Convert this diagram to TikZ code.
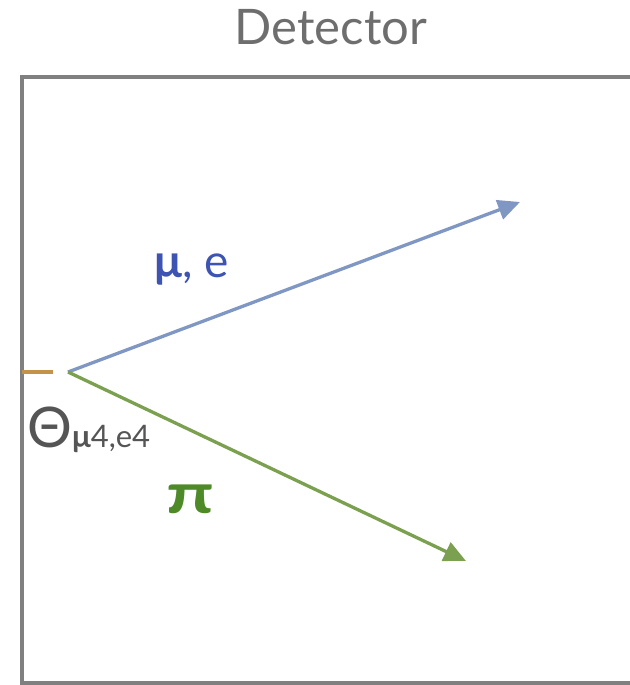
\documentclass[tikz,border=0pt]{standalone}
\usepackage{fontspec}
\setmainfont{Lato}
\usepackage{xcolor}
\usetikzlibrary{arrows.meta,positioning,calc}

\definecolor{framegray}{RGB}{128,128,128}
\definecolor{titlegray}{RGB}{110,110,110}
\definecolor{mutrack}{RGB}{127,151,194}
\definecolor{pitrack}{RGB}{122,160,80}
\definecolor{mulabel}{RGB}{62,84,178}
\definecolor{pilabel}{RGB}{78,138,40}
\definecolor{ticktan}{RGB}{196,146,72}
\definecolor{anglegray}{RGB}{85,85,85}

\begin{document}
\begin{tikzpicture}[
  x=1pt, y=-1pt,
  frame/.style={draw=framegray, line width=4pt},
  track/.style={line width=3.3pt, -{Triangle[length=22pt,width=20pt]}},
  lbl/.style={inner sep=0pt}
]
  \useasboundingbox (0,0) rectangle (629,685);

  \node[lbl, text=titlegray, font=\fontsize{49}{49}\selectfont] (title) at (331,27) {Detector};
  \draw[frame] (640,77) -- (22,77) -- (22,683) -- (640,683);

  \coordinate (vtx) at (68,372);
  \coordinate (mutip) at (520,202);
  \coordinate (pitip) at (466,561);
  \coordinate (tickL) at (22,372);
  \coordinate (tickR) at (53,372);

  \draw[track, mutrack] (vtx) -- (mutip);
  \draw[track, pitrack] (vtx) -- (pitip);
  \draw[ticktan, line width=4pt] (tickL) -- (tickR);

  \node[lbl, text=mulabel, anchor=base west, font=\fontsize{46}{46}\selectfont] (mulbl) at (154,277) {\textbf{μ}, e};
  \node[lbl, text=pilabel, anchor=base west, font=\fontsize{56}{56}\selectfont\bfseries] (pilbl) at (166,513) {\scalebox{1.35}[1]{π}};
  \node[lbl, text=anglegray, anchor=base west] (theta) at (27,447)
    {{\fontsize{56}{56}\selectfont Θ}{\fontsize{31}{31}\selectfont\textbf{μ}4,e4}};
\end{tikzpicture}
\end{document}
